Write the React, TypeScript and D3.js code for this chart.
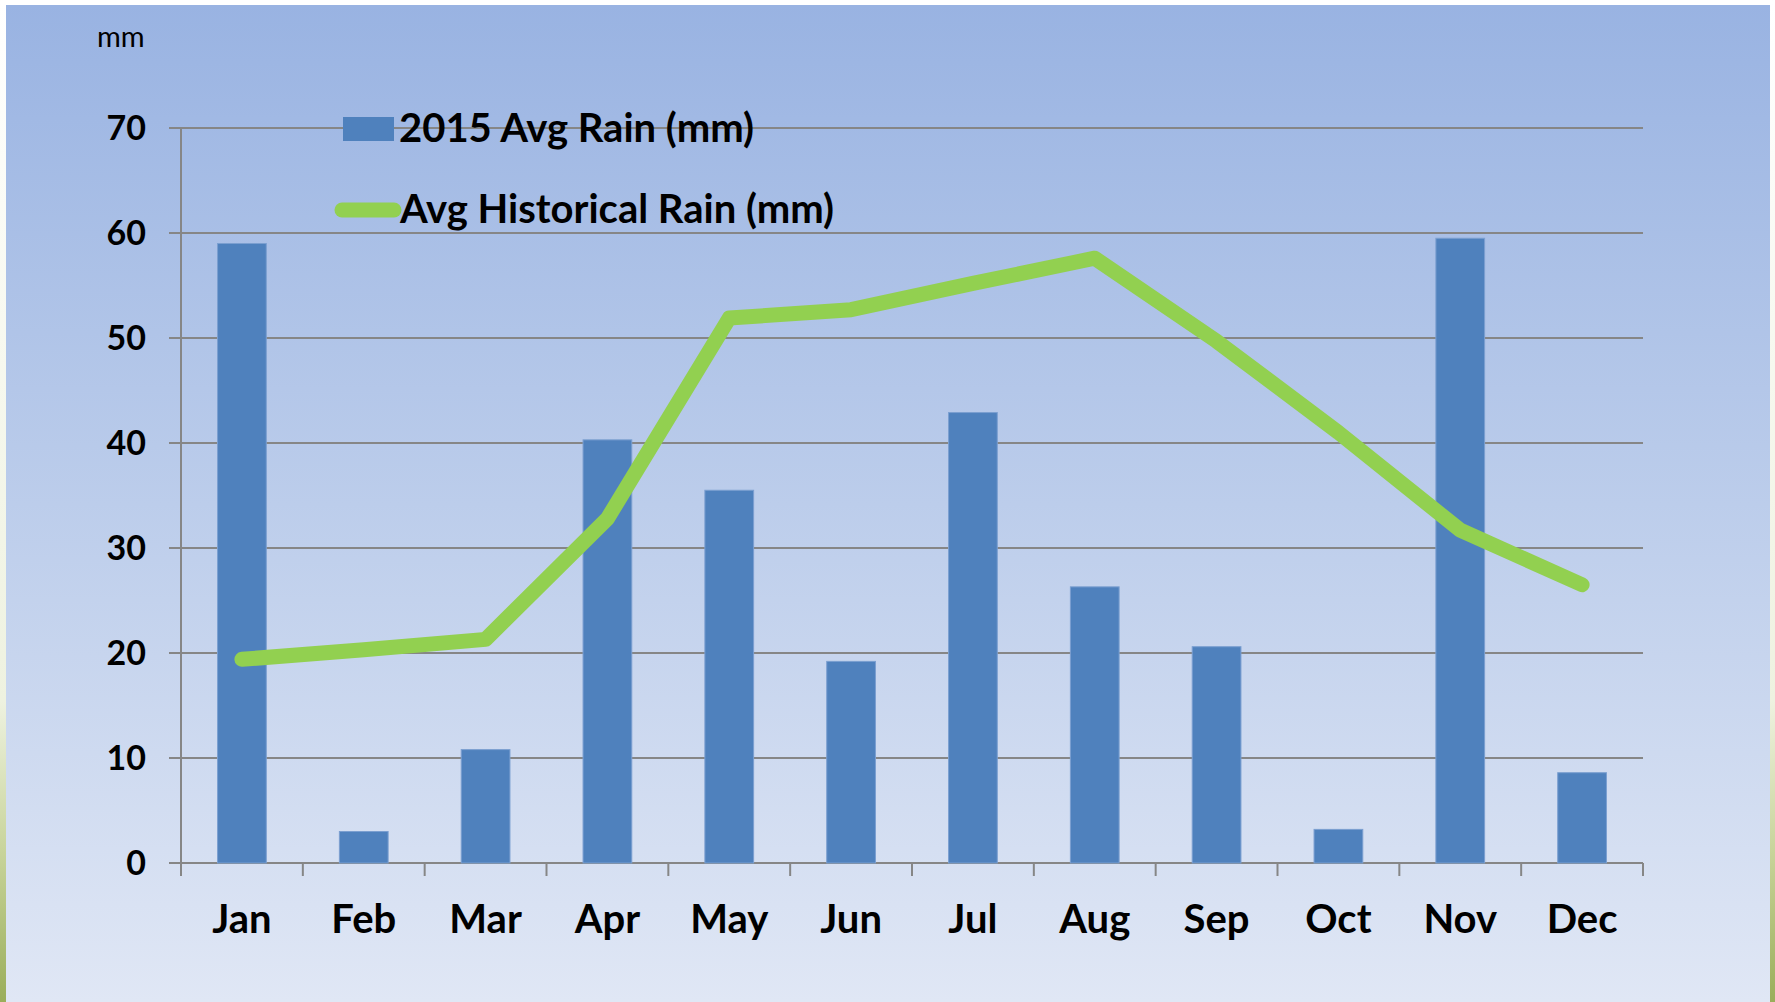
import React from "react";
import * as d3 from "d3";

// values
const months = ["Jan", "Feb", "Mar", "Apr", "May", "Jun", "Jul", "Aug", "Sep", "Oct", "Nov", "Dec"];
const rain2015 = [59.0, 3.0, 10.8, 40.3, 35.5, 19.2, 42.9, 26.3, 20.6, 3.2, 59.5, 8.6];
const rainHistorical = [19.4, 20.3, 21.3, 32.8, 51.9, 52.7, 55.2, 57.6, 49.7, 41.0, 31.7, 26.5];
const yTicks = [0, 10, 20, 30, 40, 50, 60, 70];
const seriesNames = ["2015 Avg Rain (mm)", "Avg Historical Rain (mm)"];

export default function App() {
  const width = 1775;
  const height = 1002;
  const left = 181;
  const right = 1643;
  const top = 128;
  const bottom = 863;
  const font = "Lato, 'Open Sans', sans-serif";
  const grid = "#868686";

  const x = d3.scaleBand()
    .domain(months)
    .range([left, right])
    .paddingInner(0.6)
    .paddingOuter(0.3);

  const step = x.step();

  const y = d3.scaleLinear()
    .domain([0, 70])
    .range([bottom, top]);

  const cx = (m: string) => (x(m) || 0) + x.bandwidth() / 2;

  const line = d3.line<number>()
    .x((_, i) => cx(months[i]))
    .y(d => y(d));

  return (
    <svg width={width} height={height} style={{ position: "absolute", left: 0, top: 0, display: "block" }}>
      <defs>
        <linearGradient id="bg" x1="0" y1="0" x2="0" y2="1">
          <stop offset="0" stopColor="#99B3E2" />
          <stop offset="0.5" stopColor="#BCCDEB" />
          <stop offset="1" stopColor="#E0E7F5" />
        </linearGradient>
        <linearGradient id="grass" x1="0" y1="0" x2="0" y2="1">
          <stop offset="0" stopColor="#FFFFFF" />
          <stop offset="0.7" stopColor="#EEF2E0" />
          <stop offset="0.85" stopColor="#C8D49A" />
          <stop offset="1" stopColor="#9AAE5A" />
        </linearGradient>
      </defs>
      <rect x={0} y={0} width={width} height={height} fill="#FFFFFF" />
      <rect x={0} y={0} width={6} height={height} fill="url(#grass)" />
      <rect x={1770} y={0} width={5} height={height} fill="url(#grass)" />
      <rect x={6} y={5} width={1764} height={height - 5} fill="url(#bg)" />

      {/* gridlines + y ticks */}
      {yTicks.map(t => (
        <line key={t} x1={left - 12} x2={right} y1={y(t)} y2={y(t)} stroke={grid} strokeWidth={2} />
      ))}
      <line x1={left} x2={left} y1={top} y2={bottom + 13} stroke={grid} strokeWidth={2} />
      {d3.range(months.length + 1).map(i => (
        <line key={i} x1={left + i * step} x2={left + i * step} y1={bottom} y2={bottom + 13} stroke={grid} strokeWidth={2} />
      ))}

      {/* bars */}
      <g>
        {rain2015.map((v, i) => (
          <rect
            key={months[i]}
            x={x(months[i])}
            y={y(v)}
            width={x.bandwidth()}
            height={y(0) - y(v)}
            fill="#4F81BD"
            stroke="#7B9FD0"
            strokeWidth={1}
          />
        ))}
      </g>

      {/* historical line */}
      <path d={line(rainHistorical) || ""} fill="none" stroke="#92D050" strokeWidth={15} strokeLinecap="round" strokeLinejoin="round" />

      {/* y labels */}
      {yTicks.map(t => (
        <text key={t} x={146} y={y(t)} dy="0.36em" textAnchor="end" fontFamily={font} fontWeight={700} fontSize={34} fill="#000">
          {t}
        </text>
      ))}
      <text x={97} y={47} fontFamily={font} fontSize={29} fill="#000">mm</text>

      {/* x labels */}
      {months.map(m => (
        <text key={m} x={cx(m)} y={933} textAnchor="middle" fontFamily={font} fontWeight={700} fontSize={40} fill="#000">
          {m}
        </text>
      ))}

      {/* legend */}
      <rect x={343} y={117} width={51} height={24} fill="#4F81BD" />
      <text x={399} y={142} fontFamily={font} fontWeight={700} fontSize={40} fill="#000">{seriesNames[0]}</text>
      <line x1={342} x2={394} y1={210} y2={210} stroke="#92D050" strokeWidth={15} strokeLinecap="round" />
      <text x={400} y={223} fontFamily={font} fontWeight={700} fontSize={40} fill="#000">{seriesNames[1]}</text>
    </svg>
  );
}
